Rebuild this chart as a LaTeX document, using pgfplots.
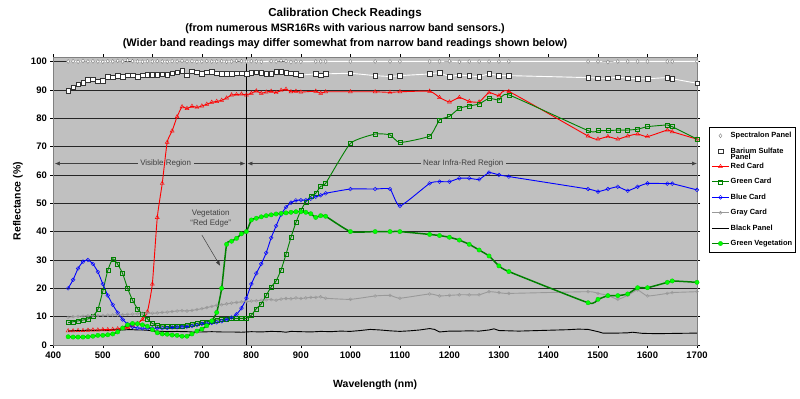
\documentclass[border=0pt]{standalone}
\usepackage{fontspec}
\setmainfont{Liberation Sans}
\usepackage{pgfplots}
\pgfplotsset{compat=1.18}
\usetikzlibrary{arrows.meta}
\definecolor{plotbg}{HTML}{C0C0C0}
\definecolor{gcard}{HTML}{008000}
\definecolor{vegfill}{HTML}{00FF00}
\definecolor{graycard}{HTML}{999999}
\definecolor{annot}{HTML}{404040}
\begin{document}
\begin{tikzpicture}
\path[use as bounding box] (0bp,0bp) rectangle (800bp,399bp);
\node[font=\bfseries\fontsize{11.6}{14}\selectfont] at (345bp,385.5bp) {Calibration Check Readings};
\node[font=\bfseries\fontsize{10.8}{12}\selectfont] at (345bp,370bp) {(from numerous MSR16Rs with various narrow band sensors.)};
\node[font=\bfseries\fontsize{11}{12}\selectfont] at (345bp,355bp) {(Wider band readings may differ somewhat from narrow band readings shown below)};
\begin{axis}[
  at={(53.3bp,54bp)}, anchor=south west,
  width=643.7bp, height=287.8bp, scale only axis,
  xmin=400, xmax=1700, ymin=0, ymax=101.5,
  xtick={400,500,...,1700}, ytick={0,10,...,100},
  axis background/.style={fill=plotbg},
  ymajorgrids, grid style={black!85, line width=0.5bp},
  axis line style={gray, line width=0.6bp},
  tick align=outside, tick style={black, line width=0.5bp}, major tick length=3bp,
  ticklabel style={font=\bfseries\fontsize{9.5}{11}\selectfont},
  /pgf/number format/assume math mode=true,
  /pgf/number format/1000 sep={},
  xlabel={Wavelength (nm)}, ylabel={Reflectance (\%)},
  label style={font=\bfseries\fontsize{10.5}{12}\selectfont},
  xlabel style={at={(axis description cs:0.5,-0.139)}, anchor=center},
  ylabel style={at={(axis description cs:-0.055,0.5)}, anchor=center},
  clip=false,
  legend style={at={(axis description cs:1.0186,0.7575)}, anchor=north west,
    draw=black, line width=0.5bp, fill=white,
    font=\bfseries\fontsize{7.5}{8}\selectfont,
    nodes={text height=5.5bp, text depth=1.5bp, inner sep=1bp},
    row sep=6.4bp, inner xsep=2bp, inner ysep=4bp},
  legend cell align=left,
]
% annotations (behind the curves)
\draw[black, line width=0.6bp] (axis cs:790,0) -- (axis cs:790,101.5);
\draw[black!75, line width=0.5bp, -{Latex[length=5bp,width=4bp]}] (axis cs:627,64) -- (axis cs:403,64);
\draw[black!75, line width=0.5bp, -{Latex[length=5bp,width=4bp]}] (axis cs:627,64) -- (axis cs:788,64);
\node[fill=plotbg, inner sep=2.5bp, text=annot, font=\fontsize{8}{9}\selectfont] at (axis cs:627,64) {Visible Region};
\draw[black!75, line width=0.5bp, -{Latex[length=5bp,width=4bp]}] (axis cs:1228,64) -- (axis cs:792,64);
\draw[black!75, line width=0.5bp, -{Latex[length=5bp,width=4bp]}] (axis cs:1228,64) -- (axis cs:1700,64);
\node[fill=plotbg, inner sep=2.5bp, text=annot, font=\fontsize{8}{9}\selectfont] at (axis cs:1228,64) {Near Infra-Red Region};
\node[text=annot, align=center, font=\fontsize{8}{9.5}\selectfont] at (axis cs:718,44.6) {Vegetation\\“Red Edge”};
\draw[black!75, line width=0.5bp, -{Latex[length=5bp,width=4bp]}] (axis cs:700,38.8) -- (axis cs:737,27.9);

% Spectralon Panel
\addplot[white, line width=0.9bp, smooth, tension=0.3, mark=diamond*, mark size=2bp,
  mark options={fill=white, draw=gray, line width=0.4bp}] table {
430 100.0
440 100.1
450 99.9
460 100.2
470 100.0
480 100.1
490 100.0
500 99.9
510 100.1
520 100.0
530 100.2
540 100.0
550 100.4
560 100.1
570 100.0
580 99.9
590 100.1
600 100.0
610 100.1
620 100.0
630 99.9
640 100.1
650 100.0
660 100.2
670 100.0
680 100.1
690 99.9
700 100.0
710 100.1
720 100.0
730 100.0
740 100.1
750 99.9
760 100.0
770 100.2
780 100.1
790 100.0
800 100.1
810 100.0
820 99.9
840 100.1
850 100.0
860 100.3
870 100.1
880 99.8
890 100.0
900 99.9
930 100.0
940 100.0
950 100.0
1000 100.0
1050 100.0
1080 100.0
1100 100.0
1160 100.0
1180 100.0
1200 100.1
1220 99.9
1240 100.0
1260 100.0
1280 100.0
1300 100.0
1320 100.0
1480 100.0
1500 100.0
1520 99.8
1540 100.0
1560 100.0
1580 100.0
1600 100.0
1640 100.0
1650 100.0
1700 100.0
};
\addlegendentry{Spectralon Panel}

% Barium Sulfate Panel
\addplot[white, line width=0.9bp, smooth, tension=0.3, mark=square*, mark size=2.3bp,
  mark options={fill=white, draw=black!80, line width=0.4bp}] table {
430 89.6
440 90.9
450 92.0
460 92.5
470 93.5
480 93.8
490 93.0
500 93.2
510 94.7
520 94.4
530 94.9
540 94.6
550 95.2
560 95.2
570 94.6
580 95.2
590 95.4
600 95.4
610 95.4
620 95.5
630 95.4
640 95.8
650 96.2
660 96.8
670 95.2
680 96.6
690 96.2
700 95.6
710 96.2
720 96.4
730 95.8
740 95.6
750 95.7
760 95.7
770 95.8
780 95.8
790 95.6
800 96.0
810 96.2
820 96.1
830 95.6
840 95.6
850 96.4
860 96.4
870 96.0
880 95.8
890 95.6
900 95.2
930 95.6
940 95.2
950 95.6
1000 95.8
1050 95.0
1080 94.7
1100 95.0
1160 95.6
1180 96.0
1200 94.7
1220 95.2
1240 94.9
1260 94.7
1280 95.6
1300 95.0
1320 95.0
1480 94.3
1500 94.1
1520 94.1
1540 94.4
1560 94.1
1580 93.9
1600 93.9
1640 94.3
1650 93.9
1700 92.3
};
\addlegendentry{\begin{tabular}[t]{@{}l@{}}Barium Sulfate\\[-1.5bp]Panel\end{tabular}}

% Red Card
\addplot[red, line width=0.9bp, smooth, tension=0.3, mark=triangle, mark size=2.3bp,
  mark options={line width=0.4bp}] table {
430 5.0
440 5.0
450 5.1
460 5.1
470 5.2
480 5.3
490 5.3
500 5.4
510 5.4
520 5.5
530 5.7
540 5.9
550 6.2
560 6.8
570 7.6
580 9.0
590 11.7
600 21.5
610 45.0
620 57.0
630 71.5
640 75.5
650 80.5
660 84.0
670 83.4
680 84.2
690 83.8
700 84.3
710 84.9
720 85.6
730 85.9
740 86.3
750 87.1
760 88.2
770 88.3
780 88.5
790 88.2
800 88.8
810 89.6
820 88.8
830 89.2
840 89.5
850 89.0
860 89.8
870 90.2
880 89.3
890 89.5
900 89.2
930 89.5
940 88.8
950 89.3
1000 89.3
1050 89.3
1080 89.1
1100 89.3
1160 89.5
1180 87.3
1200 85.7
1220 87.3
1240 85.9
1260 85.7
1280 89.0
1300 87.9
1320 89.4
1480 73.7
1500 72.6
1520 73.5
1540 72.6
1560 73.7
1580 74.4
1600 73.5
1640 75.8
1650 75.2
1700 72.6
};
\addlegendentry{Red Card}

% Green Card
\addplot[gcard, line width=0.9bp, smooth, tension=0.3, mark=square, mark size=2bp,
  mark options={line width=0.4bp}] table {
430 7.9
440 8.2
450 8.5
460 8.8
470 9.2
480 10.2
490 12.5
500 19.0
510 26.3
520 30.4
530 28.5
540 25.2
550 20.0
560 15.8
570 12.8
580 10.8
590 9.2
600 7.6
610 6.9
620 6.7
630 6.5
640 6.5
650 6.6
660 6.7
670 7.0
680 7.3
690 7.6
700 7.9
710 8.2
720 8.5
730 8.8
740 9.0
750 9.2
760 9.4
770 9.4
780 9.4
790 9.4
800 10.5
810 12.8
820 14.5
830 17.5
840 20.5
850 22.6
860 26.5
870 32.0
880 38.0
890 43.2
900 47.5
910 50.5
920 52.5
930 53.5
940 56.0
950 57.0
1000 71.1
1050 74.4
1080 74.1
1100 71.4
1160 73.7
1180 79.4
1200 80.6
1220 83.5
1240 84.3
1260 85.0
1280 87.0
1300 86.4
1320 88.2
1480 75.6
1500 75.6
1520 75.6
1540 75.8
1560 75.8
1580 76.1
1600 77.0
1640 77.6
1650 77.0
1700 72.6
};
\addlegendentry{Green Card}

% Blue Card
\addplot[blue, line width=0.9bp, smooth, tension=0.3, mark=o, mark size=1.9bp,
  mark options={line width=0.4bp}] table {
430 20.0
440 23.0
450 27.0
460 29.4
470 30.0
480 28.6
490 25.8
500 21.5
510 17.5
520 14.2
530 11.4
540 9.0
550 7.4
560 6.4
570 6.0
580 5.9
590 5.9
600 5.9
610 5.9
620 5.9
630 6.0
640 6.2
650 6.3
660 6.4
670 6.5
680 6.7
690 7.0
700 7.5
710 7.6
720 7.8
730 8.0
740 8.4
750 9.0
760 9.7
770 10.8
780 13.0
790 16.5
800 21.5
810 25.3
820 28.6
830 32.5
840 37.8
850 42.0
860 46.0
870 48.6
880 50.2
890 51.0
900 51.1
910 51.1
920 51.6
930 52.3
940 52.8
950 53.5
1000 55.0
1050 55.0
1080 55.0
1100 49.0
1160 57.0
1180 57.6
1200 57.6
1220 58.8
1240 58.8
1260 58.4
1280 60.8
1300 60.0
1320 59.4
1480 55.0
1500 54.1
1520 55.0
1540 55.8
1560 54.4
1580 55.8
1600 57.0
1640 56.9
1650 56.9
1700 54.7
};
\addlegendentry{Blue Card}

% Gray Card
\addplot[graycard, line width=0.9bp, smooth, tension=0.3, mark=o, mark size=1.5bp,
  mark options={line width=0.4bp}] table {
430 9.8
440 10.0
450 10.1
460 10.2
470 10.3
480 10.3
490 10.4
500 10.4
510 10.5
520 10.6
530 10.6
540 10.7
550 10.8
560 10.9
570 11.0
580 11.2
590 11.3
600 11.2
610 11.3
620 11.5
630 11.6
640 11.8
650 12.0
660 12.1
670 12.0
680 12.2
690 12.5
700 12.8
710 13.2
720 13.6
730 14.0
740 14.2
750 14.5
760 14.8
770 15.0
780 15.2
790 15.3
800 15.5
810 15.6
820 15.8
830 15.9
840 16.0
850 15.8
860 16.2
870 16.4
880 16.3
890 16.6
900 16.4
910 16.6
920 16.8
930 16.8
940 17.0
950 16.5
1000 16.1
1050 17.3
1080 17.5
1100 16.5
1160 18.0
1180 17.3
1200 17.5
1220 17.7
1240 17.7
1260 17.7
1280 18.8
1300 18.5
1320 18.2
1480 18.8
1500 18.2
1520 17.5
1540 16.1
1560 17.5
1580 19.4
1600 17.3
1640 18.2
1650 18.5
1700 18.8
};
\addlegendentry{Gray Card}

% Black Panel
\addplot[black, line width=0.9bp] table {
430 4.9
440 5.0
450 5.1
460 5.0
470 5.3
480 5.1
490 5.2
500 5.2
510 5.1
520 5.3
530 5.4
540 5.3
550 5.4
560 5.4
570 5.3
580 5.3
590 5.2
600 5.0
610 4.9
620 4.8
630 4.7
640 4.7
650 4.8
660 4.7
670 4.7
680 4.6
690 4.6
700 4.6
720 4.7
740 4.6
760 4.6
780 4.5
800 4.7
820 4.6
840 4.8
860 4.7
870 4.5
880 4.8
900 4.7
920 4.6
940 4.8
960 4.7
980 4.9
1000 4.8
1020 5.1
1040 5.5
1060 5.3
1080 5.0
1100 4.8
1120 5.0
1140 5.3
1160 5.8
1170 5.5
1180 4.6
1200 4.9
1220 4.9
1240 5.0
1260 4.9
1280 5.3
1290 5.7
1300 5.1
1320 5.0
1340 4.9
1360 5.0
1380 5.1
1400 5.2
1420 5.3
1440 5.4
1460 5.6
1480 5.5
1500 4.7
1510 4.2
1540 4.2
1560 4.3
1570 4.5
1590 4.1
1620 4.0
1660 4.1
1700 4.2
};
\addlegendentry{Black Panel}

% Green Vegetation
\addplot[gcard, line width=1.5bp, smooth, tension=0.3, mark=*, mark size=2.2bp,
  mark options={fill=vegfill, draw=vegfill!80!black, line width=0.3bp}] table {
430 2.9
440 2.8
450 2.8
460 2.8
470 2.9
480 3.1
490 3.4
500 3.4
510 3.6
520 3.9
530 4.6
540 6.0
550 7.1
560 7.6
570 7.5
580 7.1
590 6.6
600 5.4
610 4.3
620 3.9
630 3.8
640 3.5
650 3.4
660 3.1
670 3.1
680 3.9
690 4.9
700 5.6
710 6.8
720 8.5
730 11.5
740 20.0
750 35.5
760 36.6
770 37.6
780 39.2
790 40.0
800 44.1
810 44.7
820 45.2
830 45.6
840 45.9
850 46.2
860 46.4
870 46.6
880 46.8
890 47.0
900 47.0
910 46.8
920 46.3
930 45.0
940 45.6
950 45.4
1000 40.0
1050 40.0
1080 40.0
1100 40.0
1160 39.0
1180 38.6
1200 38.0
1220 37.0
1240 35.5
1260 33.5
1280 31.4
1300 27.9
1320 25.9
1480 14.9
1500 16.1
1520 17.4
1540 17.4
1560 18.0
1580 20.2
1600 20.2
1640 22.1
1650 22.6
1700 22.1
};
\addlegendentry{Green Vegetation}
\end{axis}
\end{tikzpicture}
\end{document}
